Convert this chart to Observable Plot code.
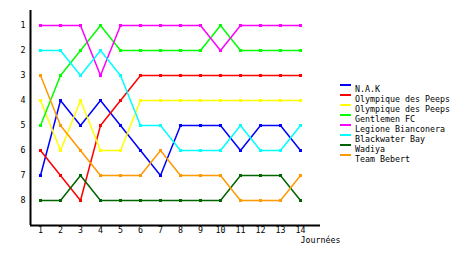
<!DOCTYPE html>
<html>
<head>
<meta charset="utf-8">
<script src="https://cdn.jsdelivr.net/npm/d3@7"></script>
<script src="https://cdn.jsdelivr.net/npm/@observablehq/plot@0.6"></script>
<style>
  body { margin: 0; background: #fff; }
  #wrap { position: relative; width: 460px; height: 255px; font-family: "DejaVu Sans Mono", monospace; }
  #legend { position: absolute; left: 340px; top: 80px; font-size: 8.3px; line-height: 10px; }
  .row { position: relative; height: 10px; white-space: nowrap; }
  .sw { position: absolute; left: 0; top: 4px; width: 11px; height: 2px; }
  .lab { position: absolute; left: 15px; top: 5px; line-height: 8px; }
</style>
</head>
<body>
<div id="wrap"><div id="legend"></div></div>
<script>
const journees = [1,2,3,4,5,6,7,8,9,10,11,12,13,14];
const teams = ["N.A.K","Olympique des Peeps","Olympique des Peeps","Gentlemen FC","Legione Bianconera","Blackwater Bay","Wadiya","Team Bebert"];
const colors = ["#0000ff","#ff0000","#ffff00","#00ff00","#ff00ff","#00ffff","#006400","#ff9900"];
const nak        = [7,4,5,4,5,6,7,5,5,5,6,5,5,6];
const olympRed   = [6,7,8,5,4,3,3,3,3,3,3,3,3,3];
const olympYel   = [4,6,4,6,6,4,4,4,4,4,4,4,4,4];
const gentlemen  = [5,3,2,1,2,2,2,2,2,1,2,2,2,2];
const legione    = [1,1,1,3,1,1,1,1,1,2,1,1,1,1];
const blackwater = [2,2,3,2,3,5,5,6,6,6,5,6,6,5];
const wadiya     = [8,8,7,8,8,8,8,8,8,8,7,7,7,8];
const bebert     = [3,5,6,7,7,7,6,7,7,7,8,8,8,7];
const yTicks = [1,2,3,4,5,6,7,8];

const series = [nak, olympRed, olympYel, gentlemen, legione, blackwater, wadiya, bebert];
const data = [];
series.forEach((vals, i) => vals.forEach((v, j) => data.push({s: i, x: journees[j], y: v, c: colors[i]})));

const chart = Plot.plot({
  width: 460, height: 255,
  marginLeft: 30, marginRight: 140, marginTop: 10, marginBottom: 30,
  style: {fontFamily: "DejaVu Sans Mono, monospace", fontSize: "8.3px", background: "#fff", color: "#000"},
  x: {domain: [0.5, 15]},
  y: {domain: [0.4, 9], reverse: true},
  color: {type: "identity"},
  marks: [
    Plot.line(data, {x: "x", y: "y", z: "s", stroke: "c", strokeWidth: 1.5}),
    Plot.dot(data, {x: "x", y: "y", fill: "c", symbol: "square", r: 1.7}),
    Plot.ruleX([0.5], {stroke: "#000", strokeWidth: 2}),
    Plot.ruleY([9], {stroke: "#000", strokeWidth: 2}),
    Plot.axisY(yTicks, {tickSize: 0, tickPadding: 5, label: null, fill: "#000"}),
    Plot.axisX(journees, {tickSize: 0, tickPadding: 2, label: null, fill: "#000"}),
    Plot.text(["Journées"], {frameAnchor: "bottom-right", textAnchor: "start", dx: -20, dy: 17, fill: "#000"})
  ]
});
document.getElementById("wrap").prepend(chart);

const legend = document.getElementById("legend");
teams.forEach((t, i) => {
  const row = document.createElement("div");
  row.className = "row";
  row.innerHTML = `<span class="sw" style="background:${colors[i]}"></span><span class="lab">${t}</span>`;
  legend.appendChild(row);
});
</script>
</body>
</html>
